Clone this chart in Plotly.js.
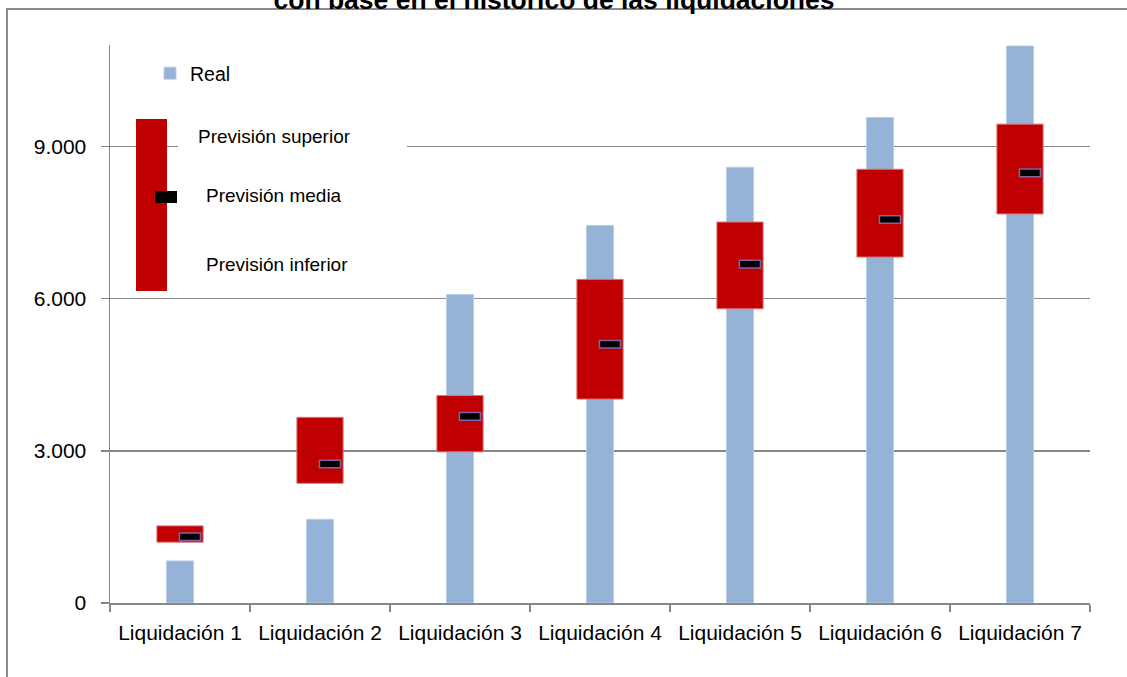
<!DOCTYPE html>
<html><head><meta charset="utf-8">
<script src="https://cdn.plot.ly/plotly-3.0.1.min.js"></script>
<style>html,body{margin:0;padding:0;background:#fff}#chart{width:1127px;height:677px}</style>
</head><body><div id="chart"></div>
<script>
// ---- data ----
const categories = ['Liquidación 1','Liquidación 2','Liquidación 3','Liquidación 4','Liquidación 5','Liquidación 6','Liquidación 7'];
const real = [830, 1650, 6080, 7440, 8590, 9570, 10980];
const previsionSuperior = [1520, 3660, 4090, 6380, 7510, 8550, 9440];
const previsionInferior = [1200, 2360, 2980, 4020, 5800, 6820, 7670];
const previsionMedia = [1305, 2740, 3680, 5100, 6680, 7560, 8480];
const yTickVals = [0, 3000, 6000, 9000];
const titleText = 'con base en el histórico de las liquidaciones';
const legendLabels = ['Previsión superior', 'Previsión media', 'Previsión inferior'];

// ---- geometry helpers (pixel -> paper) ----
const M = {l:110, r:37, t:45, b:74};
const W = 1127, H = 677;
const PW = W - M.l - M.r, PH = H - M.t - M.b;
const px = p => (p - M.l) / PW;
const py = p => (H - M.b - p) / PH;
const FONT = 'Liberation Sans, Arial, sans-serif';
const GRID = '#878787';
const MID_HALF = 75;

const traces = [
  {type:'bar', name:'Real', x:categories, y:real, width:0.193,
   marker:{color:'#95B3D7', line:{color:'#B9CDE5', width:1}}, showlegend:true, hoverinfo:'y'},
  {type:'bar', name:'Previsión', x:categories, base:previsionInferior,
   y:previsionSuperior.map((v,i)=>v-previsionInferior[i]), width:0.33,
   marker:{color:'#C00000', line:{color:'#E07070', width:1}}, showlegend:false},
  {type:'bar', name:'Previsión media', x:categories, base:previsionMedia.map(v=>v-MID_HALF),
   y:previsionMedia.map(()=>2*MID_HALF), width:0.15, offset:-0.004,
   marker:{color:'#000000', line:{color:'#8064A2', width:1.5}}, showlegend:false}
];

const shapes = [
  // chart frame (clipped by the page edges)
  {type:'rect', xref:'paper', yref:'paper', x0:px(7), x1:px(1135), y0:py(690), y1:py(9),
   line:{color:'#8C8C8C', width:2}, fillcolor:'rgba(0,0,0,0)', layer:'below'},
  // white text box of the drawn legend
  {type:'rect', xref:'paper', yref:'paper', x0:px(178), x1:px(407), y0:py(290), y1:py(120),
   line:{width:0}, fillcolor:'#ffffff', layer:'above'},
  // red legend box
  {type:'rect', xref:'paper', yref:'paper', x0:px(136), x1:px(167), y0:py(291), y1:py(119),
   line:{width:0}, fillcolor:'#C00000', layer:'above'},
  // black mean marker in legend
  {type:'rect', xref:'paper', yref:'paper', x0:px(155), x1:px(177), y0:py(203), y1:py(191),
   line:{width:0}, fillcolor:'#000000', layer:'above'}
];

const labelPos = [[196,136],[204,196],[204,264]];
const annotations = legendLabels.map((t,i)=>({
  text:t, xref:'paper', yref:'paper', x:px(labelPos[i][0]), y:py(labelPos[i][1]),
  xanchor:'left', yanchor:'middle', showarrow:false, font:{family:FONT, size:19, color:'#000'}
}));

const layout = {
  width:W, height:H, margin:M, paper_bgcolor:'#fff', plot_bgcolor:'#fff',
  barmode:'overlay', separators:',.', font:{family:FONT, color:'#000'},
  title:{text:titleText, xref:'container', yref:'paper', x:554/W, y:1, yanchor:'bottom',
         pad:{b:36}, font:{family:FONT, size:26.5, weight:'bold', color:'#000'}},
  xaxis:{type:'category', range:[-0.5,6.5], showgrid:false, zeroline:false, showline:true,
         linecolor:GRID, linewidth:1.5, ticks:'outside', tickson:'boundaries', ticklen:7,
         tickcolor:GRID, tickwidth:1.5, tickfont:{family:FONT, size:21, color:'#000'}, ticklabelstandoff:10},
  yaxis:{range:[0,11000], tickvals:yTickVals, tickformat:',d', separatethousands:true,
         showgrid:true, gridcolor:GRID, gridwidth:1.5, zeroline:false, showline:true,
         linecolor:GRID, linewidth:1.5, ticks:'outside', ticklen:8, tickcolor:GRID, tickwidth:1.5,
         tickfont:{family:FONT, size:21, color:'#000'}, ticklabelstandoff:10},
  legend:{x:px(150), y:py(54), xanchor:'left', yanchor:'top', bgcolor:'rgba(0,0,0,0)',
          font:{family:FONT, size:19.5, color:'#000'}},
  shapes:shapes, annotations:annotations
};

Plotly.newPlot('chart', traces, layout, {displayModeBar:false, staticPlot:true});
</script>
</body></html>
